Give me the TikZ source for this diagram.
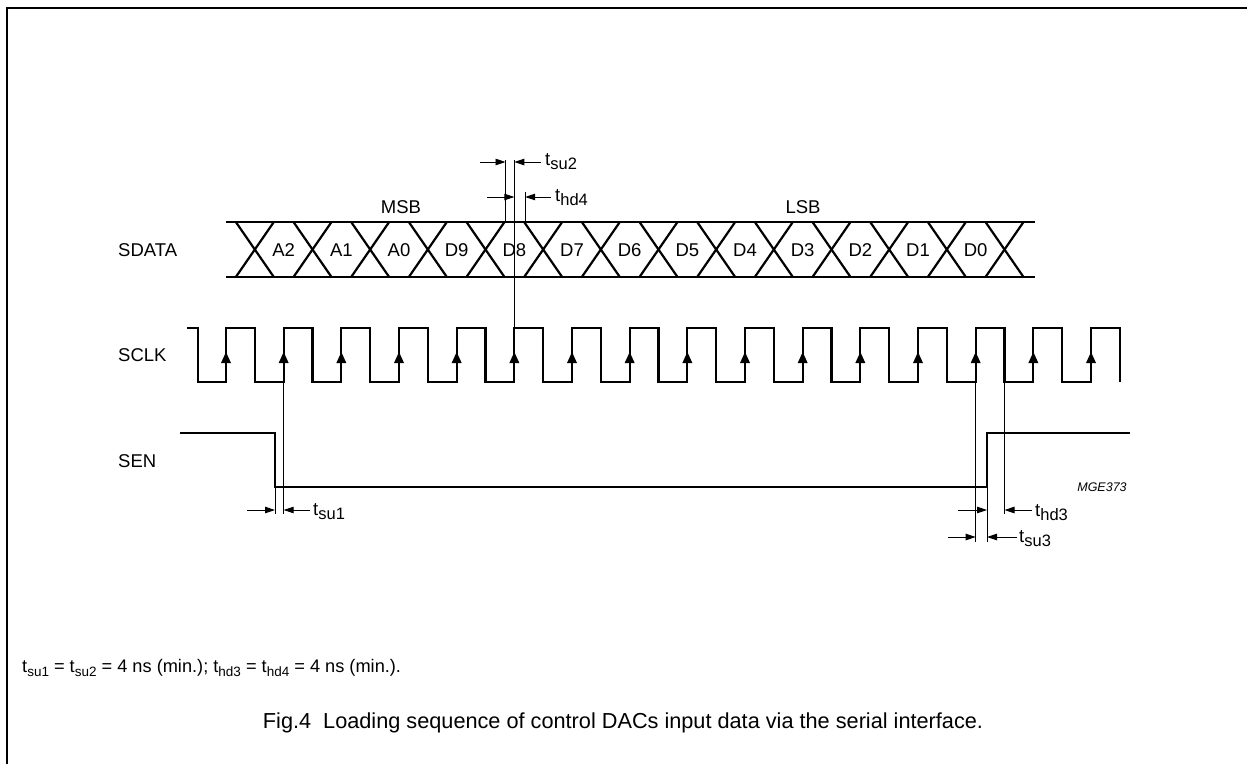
\documentclass[tikz,border=0pt]{standalone}
\usepackage{fontspec}
\setmainfont{Liberation Sans}
\usetikzlibrary{arrows.meta}
\newcommand\tlab[1]{t\raisebox{-0.4ex}{\fontsize{16.5}{17}\selectfont #1}}
\newcommand\fsub[1]{t\raisebox{-0.35ex}{\fontsize{13.5}{14}\selectfont #1}}
\tikzset{
  sig/.style={line width=2.2pt, line join=miter},
  thin/.style={line width=0.9pt},
  tarr/.style={line width=0.9pt, -{Triangle[length=10pt,width=6.5pt]}},
  lab/.style={font=\fontsize{18.5}{21}\selectfont, inner sep=0pt},
  tl/.style={font=\fontsize{18.5}{21}\selectfont, inner sep=0pt, anchor=west},
  clkarrow/.style={fill=black, draw=none}
}
\begin{document}
\begin{tikzpicture}[x=1pt,y=-1pt]
\useasboundingbox (0,0) rectangle (1247,764);
% frame
\draw[line width=1.6pt] (7,764) -- (7,8) -- (1247,8);
% signal names
\node[tl] (nsdata) at (118,250) {SDATA};
\node[tl] (nsclk) at (118,355) {SCLK};
\node[tl] (nsen) at (118,461) {SEN};
% SDATA bus
\def\P{57.667}
\draw[sig] (226,222) -- (1035,222);
\draw[sig] (226,277) -- (1035,277);
\foreach \j in {0,...,13}{
  \pgfmathsetmacro\c{254.83+\j*\P}
  \draw[sig] ({\c-19},222) -- ({\c+19},277);
  \draw[sig] ({\c+19},222) -- ({\c-19},277);
}
\foreach \t [count=\i] in {A2,A1,A0,D9,D8,D7,D6,D5,D4,D3,D2,D1,D0}{
  \node[lab] (d\i) at ({226+\i*\P},250) {\t};
}
\node[lab] (msb) at (401,207) {MSB};
\node[lab] (lsb) at (803,207) {LSB};
% SCLK
\draw[sig] (187,328) -- (198,328) -- (198,382)
  \foreach \k in {0,...,14}{
    -- ({226+\k*\P},382) -- ({226+\k*\P},328) -- ({254.83+\k*\P},328) -- ({254.83+\k*\P},382)
  } -- (1091,382) -- (1091,328) -- (1120,328) -- (1120,382);
\foreach \k in {0,...,15}{
  \pgfmathsetmacro\r{226+\k*\P}
  \fill[clkarrow] (\r,352) -- ({\r+5},363) -- ({\r-5},363) -- cycle;
}
% SEN
\draw[sig] (180,433) -- (275,433) -- (275,487) -- (987,487) -- (987,433) -- (1130,433);
\node[font=\fontsize{12.5}{14}\selectfont\itshape, inner sep=0pt] (mge) at (1102,487) {MGE373};
% tsu2 / thd4
\coordinate (r5) at ({226+5*\P},0);
\draw[thin] (r5 |- 0,160) -- (r5 |- 0,328);
\draw[thin] (505.5,160) -- (505.5,222);
\draw[thin] (525.2,192) -- (525.2,222);
\coordinate (a1) at (480,162);
\coordinate (a2) at (505.5,162);
\coordinate (a3) at (541,162);
\draw[tarr] (a1) -- (a2);
\draw[tarr] (a3) -- (r5 |- a3);
\node[tl] (tsu2) at (545,162) {\tlab{su2}};
\coordinate (b1) at (487,197);
\coordinate (b2) at (551,197);
\draw[tarr] (b1) -- (r5 |- b1);
\draw[tarr] (b2) -- (525.2,197);
\node[tl] (thd4) at (555,198) {\tlab{hd4}};
% tsu1
\coordinate (r1) at ({226+\P},0);
\draw[thin] (r1 |- 0,382) -- (r1 |- 0,514);
\draw[thin] (275,487) -- (275,514);
\coordinate (c1) at (247,510);
\coordinate (c2) at (310,510);
\draw[tarr] (c1) -- (275,510);
\draw[tarr] (c2) -- (r1 |- c2);
\node[tl] (tsu1) at (313,512) {\tlab{su1}};
% tsu3 / thd3
\coordinate (r13) at ({226+13*\P},0);
\coordinate (f13) at ({254.83+13*\P},0);
\draw[thin] (r13 |- 0,382) -- (r13 |- 0,542);
\draw[thin] (987,487) -- (987,542);
\draw[thin] (f13 |- 0,382) -- (f13 |- 0,514);
\coordinate (e1) at (958,510);
\coordinate (e2) at (1032,510);
\draw[tarr] (e1) -- (987,510);
\draw[tarr] (e2) -- (f13 |- e2);
\node[tl] (thd3) at (1035,513) {\tlab{hd3}};
\coordinate (g1) at (948,537);
\coordinate (g2) at (1017,537);
\draw[tarr] (g1) -- (r13 |- g1);
\draw[tarr] (g2) -- (987,537);
\node[tl] (tsu3) at (1019,539) {\tlab{su3}};
% footnote and caption
\node[anchor=west, inner sep=0pt, font=\fontsize{18.2}{20}\selectfont] (foot) at (22,668)
  {\fsub{su1} = \fsub{su2} = 4 ns (min.); \fsub{hd3} = \fsub{hd4} = 4 ns (min.).};
\node[inner sep=0pt, font=\fontsize{21.7}{25}\selectfont] (cap) at (623,723)
  {Fig.4\ \ Loading sequence of control DACs input data via the serial interface.};
\end{tikzpicture}
\end{document}
